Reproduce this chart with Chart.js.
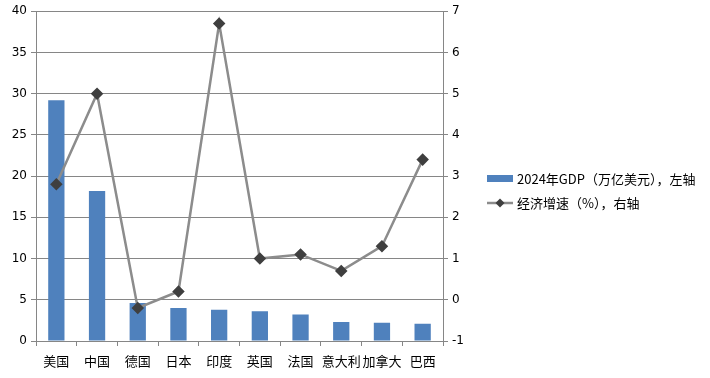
<!DOCTYPE html>
<html>
<head>
<meta charset="utf-8">
<script src="https://cdn.jsdelivr.net/npm/chart.js@4/dist/chart.umd.min.js"></script>
<style>
  html, body { margin: 0; padding: 0; background: #fff; }
  #wrap { width: 710px; height: 378px; position: relative; }
</style>
</head>
<body>
<div id="wrap"><canvas id="gdpChart"></canvas></div>
<script>
// 2024 各国 GDP（左轴，万亿美元）与经济增速（右轴，%）
const countries = ['美国', '中国', '德国', '日本', '印度', '英国', '法国', '意大利', '加拿大', '巴西'];
const gdp = [29.2, 18.2, 4.6, 4.0, 3.8, 3.6, 3.2, 2.3, 2.2, 2.1];
const growth = [2.8, 5.0, -0.2, 0.2, 6.7, 1.0, 1.1, 0.7, 1.3, 3.4];
const gdpLabel = '2024年GDP（万亿美元），左轴';
const growthLabel = '经济增速（%），右轴';

const FONT = '"DejaVu Sans", "Noto Sans CJK SC", sans-serif';
const GRID = '#868686';
const BAR = '#4F81BD';
const LINE = '#8C8C8C';
const MARK = '#3F3F3F';

// 图例画在右侧空白处
const sideLegend = {
  id: 'sideLegend',
  afterDraw(chart) {
    const ctx = chart.ctx;
    const x = 487;
    ctx.save();
    ctx.fillStyle = BAR;
    ctx.fillRect(x, 175, 26, 7);
    ctx.strokeStyle = LINE;
    ctx.lineWidth = 2.5;
    ctx.beginPath();
    ctx.moveTo(x, 203);
    ctx.lineTo(x + 26, 203);
    ctx.stroke();
    ctx.fillStyle = MARK;
    ctx.beginPath();
    ctx.moveTo(x + 13, 198.5);
    ctx.lineTo(x + 17.5, 203);
    ctx.lineTo(x + 13, 207.5);
    ctx.lineTo(x + 8.5, 203);
    ctx.closePath();
    ctx.fill();
    ctx.fillStyle = '#000';
    ctx.font = '13px "Noto Sans CJK SC", sans-serif';
    ctx.textBaseline = 'middle';
    ctx.fillText(gdpLabel, 517, 179);
    ctx.fillText(growthLabel, 517, 203);
    ctx.restore();
  }
};

new Chart(document.getElementById('gdpChart'), {
  data: {
    labels: countries,
    datasets: [
      {
        type: 'line',
        label: growthLabel,
        data: growth,
        yAxisID: 'y1',
        borderColor: LINE,
        borderWidth: 2.5,
        pointStyle: 'rectRot',
        pointRadius: 4.5,
        pointBackgroundColor: MARK,
        pointBorderColor: MARK,
        tension: 0,
        order: 0,
      },
      {
        type: 'bar',
        label: gdpLabel,
        data: gdp,
        yAxisID: 'y',
        backgroundColor: BAR,
        barPercentage: 0.4,
        categoryPercentage: 1,
        order: 1,
      }
    ]
  },
  options: {
    responsive: true,
    maintainAspectRatio: false,
    animation: false,
    layout: { padding: { top: 11, right: 237, left: 0, bottom: 0 } },
    plugins: { legend: { display: false }, tooltip: { enabled: false } },
    scales: {
      x: {
        offset: true,
        grid: { offset: true, drawOnChartArea: false, drawTicks: true, tickLength: 5, color: GRID },
        border: { color: GRID },
        ticks: { color: '#000', font: { family: FONT, size: 13 }, padding: 9, maxRotation: 0, autoSkip: false },
        afterFit(scale) { scale.height = 37; }
      },
      y: {
        position: 'left',
        min: 0,
        max: 40,
        ticks: { stepSize: 5, color: '#000', font: { family: FONT, size: 12 }, padding: 4 },
        grid: { color: GRID, tickLength: 5 },
        border: { color: GRID },
        afterFit(scale) { scale.width = 36; }
      },
      y1: {
        position: 'right',
        min: -1,
        max: 7,
        ticks: { stepSize: 1, color: '#000', font: { family: FONT, size: 12 }, padding: 4 },
        grid: { drawOnChartArea: false, color: GRID, tickLength: 5 },
        border: { color: GRID },
        afterFit(scale) { scale.width = 30; }
      }
    }
  },
  plugins: [sideLegend]
});
</script>
</body>
</html>
